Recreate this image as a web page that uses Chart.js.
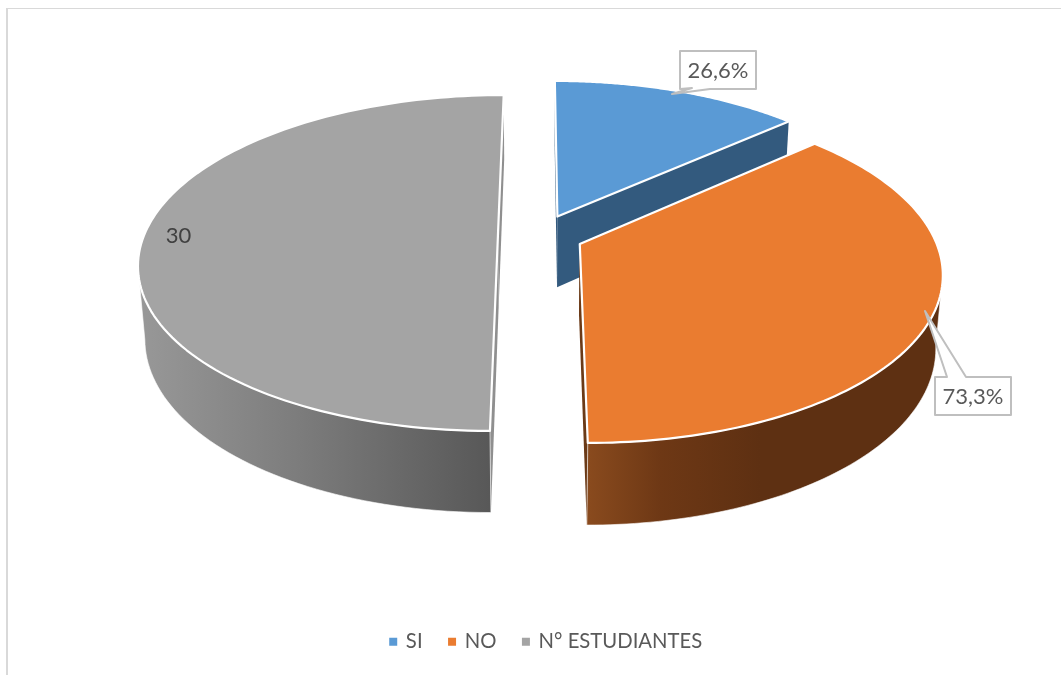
<!DOCTYPE html>
<html>
<head>
<meta charset="utf-8">
<script src="https://cdn.jsdelivr.net/npm/chart.js@4"></script>
<style>
  body { margin: 0; background: #fff; overflow: hidden; }
  #frame { position: absolute; left: 0; top: 0; width: 1061px; height: 675px; }
  #frame::before { content: ""; position: absolute; left: 6px; top: 8px; right: 0; bottom: 0;
    border-left: 2px solid #d9d9d9; border-top: 1px solid #d9d9d9; }
  canvas { position: absolute; left: 0; top: 0; }
</style>
</head>
<body>
<div id="frame"><canvas id="pie" width="1061" height="675"></canvas></div>
<script>
const categories = ["SI", "NO", "N° ESTUDIANTES"];
const values = [8, 22, 30];
const valueLabels = ["26,6%", "73,3%", "30"];
const topColors = ["#5A9AD5", "#EA7C30", "#A4A4A4"];

// perspective of the 3d pie, fitted on the picture
const view = { cx: 539, cy: 235.6, a: 354, b: 163.5, p: 0.163, q: 0.017, depth: 73 };
const explode = [0.13, 0.125, 0.116];
const drawOrder = [0, 2, 1];
const FONT = "Lato, 'Open Sans', sans-serif";

function project(u, v, z) {
  const w = 1 - view.p * v + view.q * z;
  return { x: view.cx + view.a * u / w, y: view.cy + (view.b * v + view.depth * z) / w };
}

// point of a slice: r is 0 at the apex, 1 on the rim, angle as chart.js gives it
function slicePoint(arc, i, angle, r, z) {
  const mid = (arc.startAngle + arc.endAngle) / 2;
  const u = Math.cos(mid) * explode[i] + Math.cos(angle) * r;
  const v = Math.sin(mid) * explode[i] + Math.sin(angle) * r;
  return project(u, v, z);
}

function rim(arc, i, z, frontOnly) {
  const pts = [];
  const steps = 120;
  for (let s = 0; s <= steps; s++) {
    const ang = arc.startAngle + (arc.endAngle - arc.startAngle) * s / steps;
    if (frontOnly && Math.sin(ang) < view.p) continue; // behind the silhouette
    pts.push(slicePoint(arc, i, ang, 1, z));
  }
  return pts;
}

function fillPoly(ctx, pts, fill, stroke, lw) {
  ctx.beginPath();
  pts.forEach((p, i) => (i ? ctx.lineTo(p.x, p.y) : ctx.moveTo(p.x, p.y)));
  ctx.closePath();
  ctx.fillStyle = fill;
  ctx.fill();
  if (stroke) {
    ctx.strokeStyle = stroke;
    ctx.lineWidth = lw;
    ctx.lineJoin = "round";
    ctx.stroke();
  }
}

function sideGradient(ctx, stops) {
  const g = ctx.createLinearGradient(stops[0][0], 0, stops[stops.length - 1][0], 0);
  const span = stops[stops.length - 1][0] - stops[0][0];
  stops.forEach((s) => g.addColorStop((s[0] - stops[0][0]) / span, s[1]));
  return g;
}

const pie3d = {
  id: "pie3d",
  beforeDatasetDraw(chart) {
    const ctx = chart.ctx;
    const arcs = chart.getDatasetMeta(0).data;
    const walls = [
      "#335A7E",
      sideGradient(ctx, [[586, "#8A4B1E"], [660, "#6E3815"], [760, "#5E3012"], [940, "#5E3012"]]),
      sideGradient(ctx, [[140, "#989898"], [300, "#7C7C7C"], [490, "#585858"]])
    ];
    const cutWalls = ["#335A7E", "#6B3A17", "#8F8F8F"];

    ctx.save();
    drawOrder.forEach((i) => {
      const arc = arcs[i];
      [arc.startAngle, arc.endAngle].forEach((ang) => {
        fillPoly(ctx, [
          slicePoint(arc, i, ang, 0, 0), slicePoint(arc, i, ang, 1, 0),
          slicePoint(arc, i, ang, 1, 1), slicePoint(arc, i, ang, 0, 1)
        ], cutWalls[i]);
      });
      if (i !== 0) {
        const band = rim(arc, i, 0, true).concat(rim(arc, i, 1, true).reverse());
        fillPoly(ctx, band, walls[i], "#ffffff", 0.6);
      }
      const top = [slicePoint(arc, i, arc.startAngle, 0, 0)].concat(rim(arc, i, 0, false));
      fillPoly(ctx, top, topColors[i], "#ffffff", 2.2);
    });
    ctx.restore();
    return false;
  },
  afterDatasetsDraw(chart) {
    const ctx = chart.ctx;
    ctx.save();
    ctx.textAlign = "center";
    ctx.textBaseline = "middle";
    ctx.font = "22px " + FONT;
    // callouts
    const callouts = [
      { text: valueLabels[0], l: 680, t: 51, r: 756, b: 89,
        shape: [[680, 51], [756, 51], [756, 89], [710, 89], [672, 94], [692, 88], [680, 89]] },
      { text: valueLabels[1], l: 935, t: 377, r: 1011, b: 415,
        shape: [[935, 377], [947, 377], [925, 311], [966, 377], [1011, 377], [1011, 415], [935, 415]] }
    ];
    callouts.forEach((c) => {
      fillPoly(ctx, c.shape.map((s) => ({ x: s[0], y: s[1] })), "#ffffff", "#BFBFBF", 2);
      ctx.fillStyle = "#595959";
      ctx.fillText(c.text, (c.l + c.r) / 2, (c.t + c.b) / 2 + 1);
    });
    ctx.fillStyle = "#404040";
    ctx.fillText(valueLabels[2], 178.5, 236);
    ctx.restore();
  }
};

new Chart(document.getElementById("pie"), {
  type: "pie",
  data: {
    labels: categories,
    datasets: [{ data: values, backgroundColor: topColors, borderColor: topColors, borderWidth: 3 }]
  },
  options: {
    responsive: false,
    animation: false,
    layout: { padding: { left: 32, bottom: 13 } },
    plugins: {
      tooltip: { enabled: false },
      legend: {
        position: "bottom",
        labels: {
          boxWidth: 5,
          boxHeight: 5,
          padding: 27,
          color: "#595959",
          font: { family: FONT, size: 20.3 }
        }
      }
    }
  },
  plugins: [pie3d]
});
</script>
</body>
</html>
